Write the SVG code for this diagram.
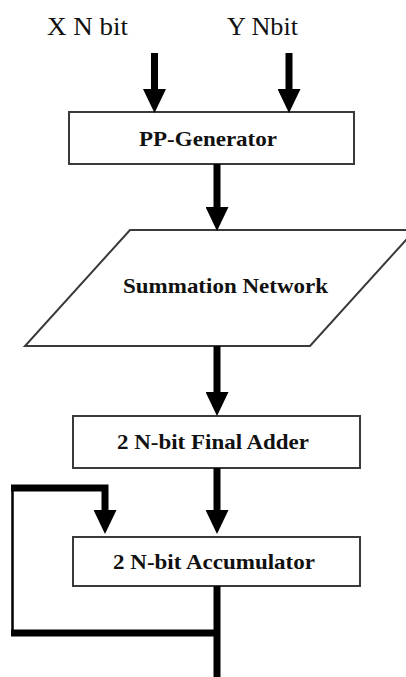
<svg xmlns="http://www.w3.org/2000/svg" width="406" height="677" viewBox="0 0 406 677">
  <style>
    .box { fill: #ffffff; stroke: #3a3a3a; stroke-width: 2; }
    .lbl { font-family: "Liberation Serif", "Times New Roman", serif; font-weight: bold; font-size: 21px; fill: #111; text-anchor: middle; }
    .in { font-family: "Liberation Serif", "Times New Roman", serif; font-size: 25px; fill: #111; }
    .bus { fill: none; stroke: #000; stroke-width: 7; }
    .thin { fill: none; stroke: #000; stroke-width: 2.5; }
  </style>
  <defs>
    <marker id="head" markerUnits="userSpaceOnUse" markerWidth="24" markerHeight="23" refX="0" refY="11.5" orient="auto" viewBox="0 0 24 23">
      <path d="M0,0 L24,11.5 L0,23 z" fill="#000"/>
    </marker>
  </defs>
  <rect width="406" height="677" fill="#ffffff"/>

  <!-- inputs -->
  <g id="input-x">
    <text class="in" x="47" y="35" textLength="81" lengthAdjust="spacingAndGlyphs">X N bit</text>
  </g>
  <g id="input-y">
    <text class="in" x="227" y="35" textLength="71" lengthAdjust="spacingAndGlyphs">Y Nbit</text>
  </g>

  <g id="pp-generator">
    <rect class="box" x="69" y="112" width="285" height="52"/>
    <text class="lbl" x="208" y="146" textLength="138" lengthAdjust="spacingAndGlyphs">PP-Generator</text>
  </g>

  <g id="summation-network">
    <polygon class="box" points="130,230 415,230 310,346 25,346"/>
    <text class="lbl" x="225.5" y="293" textLength="205" lengthAdjust="spacingAndGlyphs">Summation Network</text>
  </g>

  <g id="final-adder">
    <rect class="box" x="73" y="416" width="287" height="52"/>
    <text class="lbl" x="213" y="449" textLength="192" lengthAdjust="spacingAndGlyphs">2 N-bit Final Adder</text>
  </g>

  <g id="accumulator">
    <rect class="box" x="73" y="537" width="287" height="49"/>
    <text class="lbl" x="214" y="569" textLength="202" lengthAdjust="spacingAndGlyphs">2 N-bit Accumulator</text>
  </g>

  <g id="connectors">
    <path class="bus" d="M154.5,53 V89" marker-end="url(#head)"/>
    <path class="bus" d="M289,53 V89" marker-end="url(#head)"/>
    <path class="bus" d="M217,164 V207" marker-end="url(#head)"/>
    <path class="bus" d="M217,346 V392" marker-end="url(#head)"/>
    <path class="bus" d="M217,468 V510" marker-end="url(#head)"/>
    <!-- accumulator output and feedback loop -->
    <path class="bus" d="M217,586 V677"/>
    <path class="bus" d="M217,633 H11"/>
    <path class="thin" d="M12.5,633 V488"/>
    <path class="bus" d="M11,488 H105 V510" stroke-width="9" marker-end="url(#head)"/>
  </g>
</svg>
